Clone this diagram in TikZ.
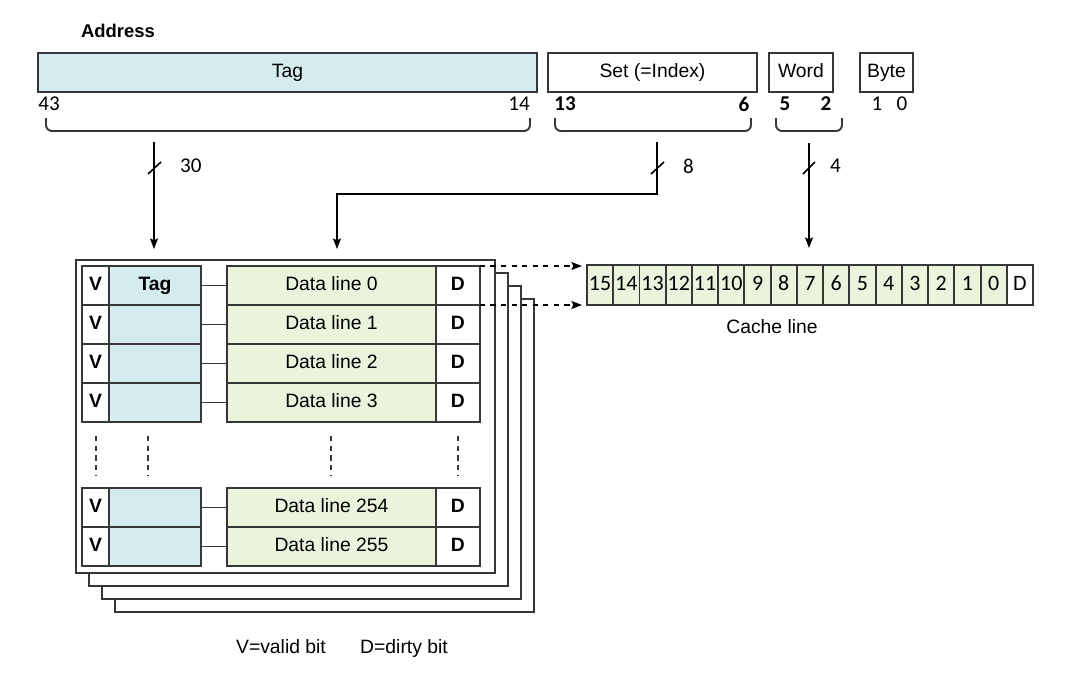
\documentclass[tikz,border=0pt]{standalone}
\usepackage{fontspec}
\setmainfont{Liberation Sans}
\newfontfamily\numfont{Carlito}
\usetikzlibrary{arrows.meta}
\definecolor{linegray}{RGB}{55,55,55}
\definecolor{tagfill}{RGB}{212,236,238}
\definecolor{datafill}{RGB}{235,243,220}

\begin{document}
\begin{tikzpicture}[x=0.02cm, y=-0.02cm,
    field/.style={draw=linegray, line width=1.1pt, minimum height=0.78cm, inner sep=0pt, outer sep=0pt, text height=8pt, text depth=2pt, font=\fontsize{11}{13}\selectfont},
    vbit/.style={field, minimum width=0.54cm, font=\fontsize{11}{13}\selectfont\bfseries},
    tagcell/.style={field, fill=tagfill, minimum width=1.84cm},
    datacell/.style={field, fill=datafill, minimum width=4.18cm},
    dbit/.style={field, minimum width=0.88cm, font=\fontsize{11}{13}\selectfont\bfseries},
    wordcell/.style={field, fill=datafill, minimum width=0.525cm, minimum height=0.8cm, font=\numfont\fontsize{12.5}{14}\selectfont},
    bitnum/.style={font=\numfont\fontsize{12}{13}\selectfont},
    frame/.style={draw=linegray, line width=1.1pt, fill=white},
    brace/.style={draw=linegray, line width=1.1pt, rounded corners=0.12cm},
    bus/.style={line width=0.9pt, -{Stealth[length=6pt, width=4.5pt, inset=1pt]}},
    txt/.style={font=\fontsize{11}{13}\selectfont}]
    \useasboundingbox (0, 0) rectangle (1090, 684);

    % address fields
    \node at (118, 31) [txt, font=\fontsize{10.5}{13}\selectfont\bfseries] (addr) {Address};
    \node at (38, 53) [field, fill=tagfill, anchor=north west, minimum width=9.98cm] (tagf) {Tag};
    \node at (548, 53) [field, anchor=north west, minimum width=4.18cm] (setf) {Set (=Index)};
    \node at (769, 53) [field, anchor=north west, minimum width=1.28cm] (wordf) {Word};
    \node at (860, 53) [field, anchor=north west, minimum width=1.06cm] (bytef) {Byte};

    \node at (49, 104) [bitnum] (b43) {43};
    \node at (519, 104) [bitnum] (b14) {14};
    \node at (565, 104) [bitnum, font=\numfont\fontsize{12}{13}\selectfont\bfseries] (b13) {13};
    \node at (744, 104) [bitnum, font=\numfont\fontsize{12}{13}\selectfont\bfseries] (b6) {6};
    \node at (785, 104) [bitnum, font=\numfont\fontsize{12}{13}\selectfont\bfseries] (b5) {5};
    \node at (826, 104) [bitnum, font=\numfont\fontsize{12}{13}\selectfont\bfseries] (b2) {2};
    \node at (877, 104) [bitnum] (b1) {1};
    \node at (902, 104) [bitnum] (b0) {0};

    \draw[brace] (46, 118) |- (530, 131) -- (530, 118);
    \draw[brace] (555, 118) |- (751, 131) -- (751, 118);
    \draw[brace] (776, 118) |- (842, 131) -- (842, 118);

    % ways, back to front
    \foreach \k in {3,2,1} {
        \draw[frame] (76+13*\k, 260+13*\k) rectangle +(419, 313);
    }
    \node at (76, 260) [frame, anchor=north west, minimum width=8.38cm, minimum height=6.26cm, inner sep=0pt, outer sep=0pt] (way) {};

    \foreach \r/\y/\n/\t in {0/266/0/Tag, 1/305/1/{}, 2/344/2/{}, 3/383/3/{}, 4/488/254/{}, 5/527/255/{}} {
        \node at (82, \y) [vbit, anchor=north west] (v\r) {V};
        \node at (v\r.east) [tagcell, anchor=west, font=\fontsize{11}{13}\selectfont\bfseries] (t\r) {\t};
        \node at (227, \y) [datacell, anchor=north west] (l\r) {Data line \n};
        \node at (l\r.east) [dbit, anchor=west] (d\r) {D};
        \draw[linegray, line width=1.1pt] (t\r.east) -- (l\r.west);
    }

    \foreach \x in {96,148,331,458} {
        \draw[linegray, line width=1.1pt, dash pattern=on 3pt off 2.5pt] (\x, 436) -- (\x, 475);
    }

    % cache line
    \foreach \b [count=\i from 0] in {15,14,...,0} {
        \node at (587+26.24*\i, 265) [wordcell, anchor=north west] (w\b) {\b};
    }
    \node at (w0.east) [wordcell, fill=white, anchor=west] (wD) {D};
    \node at (772, 327) [txt] (cachelbl) {Cache line};

    \draw[bus, dashed, shorten >=0.1cm] (d0.north east) -- (d0.north east -| w15.west);
    \draw[bus, dashed, shorten >=0.1cm] (d0.south east) -- (d0.south east -| w15.west);

    % index buses
    \coordinate (tagsrc) at (154, 142);
    \coordinate (setsrc) at (657, 142);
    \coordinate (setbend) at (337, 194);
    \coordinate (wordsrc) at (809, 143);

    \draw[bus, shorten >=0.22cm] (tagsrc) -- (tagsrc |- way.north);
    \draw[bus, shorten >=0.22cm] (setsrc) |- (setbend) -- (setbend |- way.north);
    \draw[bus, shorten >=0.34cm] (wordsrc) -- (wordsrc |- w8.north);

    \draw[line width=0.9pt] (148, 174) -- (161, 162);
    \draw[line width=0.9pt] (651, 174) -- (664, 162);
    \draw[line width=0.9pt] (803, 174) -- (815, 162);
    \node at (174, 166) [bitnum, anchor=west] (tagw) {30};
    \node at (677, 166) [bitnum, anchor=west] (setw) {8};
    \node at (824, 166) [bitnum, anchor=west] (wordw) {4};

    \node at (281, 653) [txt, anchor=base] (vkey) {V=valid bit};
    \node at (404, 653) [txt, anchor=base] (dkey) {D=dirty bit};

\end{tikzpicture}
\end{document}
